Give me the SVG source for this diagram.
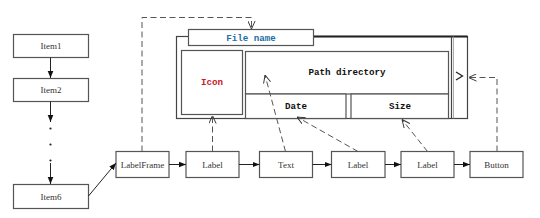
<svg xmlns="http://www.w3.org/2000/svg" width="540" height="218" viewBox="0 0 540 218">
<defs>
<style>
.box{fill:#fff;stroke:#555;stroke-width:1.2}
.t{font-family:"Liberation Serif",serif;font-size:9px;fill:#333;text-anchor:middle}
.m{font-family:"Liberation Mono",monospace;font-size:9.2px;font-weight:bold;fill:#111;text-anchor:middle}
.ln{stroke:#222;stroke-width:1;fill:none}
.dl{stroke:#555;stroke-width:1;fill:none;stroke-dasharray:6,3.5}
.fr{stroke:#444;stroke-width:1.2;fill:none}
</style>
<marker id="ah" viewBox="0 0 10 10" refX="10" refY="5" markerWidth="7" markerHeight="7" orient="auto" markerUnits="userSpaceOnUse">
<path d="M0,1 L10,5 L0,9 z" fill="#111"/>
</marker>
<marker id="oh" viewBox="0 0 10 10" refX="10" refY="5" markerWidth="8" markerHeight="8" orient="auto" markerUnits="userSpaceOnUse">
<path d="M0,0.5 L10,5 L0,9.5" fill="none" stroke="#333" stroke-width="1.2"/>
</marker>
</defs>
<rect width="540" height="218" fill="#fff"/>

<g id="frame">
<rect x="176.5" y="36.5" width="291" height="82" class="fr"/>
<line x1="314" y1="36.5" x2="467.5" y2="36.5" stroke="#222" stroke-width="2"/>
<line x1="451.5" y1="36.5" x2="451.5" y2="118.5" class="fr"/>
<line x1="453.5" y1="36.5" x2="453.5" y2="118.5" stroke="#999" stroke-width="0.8"/>
<path d="M456,72 L462.5,76 L456,80" fill="none" stroke="#222" stroke-width="1.3"/>
</g>
<g id="filename">
<rect x="188.5" y="29.5" width="125" height="16" class="box"/>
<text x="251" y="40.5" class="m" style="fill:#1f6fa8">File name</text>
</g>
<g id="icon">
<rect x="181.5" y="50.5" width="61" height="64" class="box"/>
<text x="212" y="85" class="m" style="fill:#c8202a">Icon</text>
</g>
<g id="pathdir">
<rect x="245.5" y="51.5" width="203" height="42.5" class="box"/>
<text x="347" y="75" class="m">Path directory</text>
</g>
<g id="date">
<rect x="245.5" y="94" width="100.5" height="24.5" class="box"/>
<text x="296" y="109" class="m">Date</text>
</g>
<g id="size">
<rect x="351" y="94" width="97.5" height="24.5" class="box"/>
<text x="400" y="109" class="m">Size</text>
</g>

<g id="item1"><rect x="13.5" y="34.5" width="75" height="23" class="box"/><text x="51" y="49" class="t">Item1</text></g>
<g id="item2"><rect x="13.5" y="78.5" width="75" height="23" class="box"/><text x="51" y="93" class="t">Item2</text></g>
<g id="item6"><rect x="13.5" y="184.5" width="75" height="24" class="box"/><text x="51" y="199.5" class="t">Item6</text></g>
<g id="dots" fill="#222">
<circle cx="50.5" cy="128.5" r="1.1"/><circle cx="50.5" cy="144.5" r="1.1"/><circle cx="50.5" cy="160.5" r="1.1"/>
</g>
<g id="labelframe"><rect x="116" y="151.5" width="53" height="26" class="box"/><text x="142.5" y="167.5" class="t">LabelFrame</text></g>
<g id="label1"><rect x="186" y="151.5" width="53" height="26" class="box"/><text x="212.5" y="167.5" class="t">Label</text></g>
<g id="text"><rect x="259.5" y="151.5" width="53" height="26" class="box"/><text x="286" y="167.5" class="t">Text</text></g>
<g id="label2"><rect x="331.5" y="151.5" width="53.5" height="26" class="box"/><text x="358" y="167.5" class="t">Label</text></g>
<g id="label3"><rect x="401" y="151.5" width="53" height="26" class="box"/><text x="427.5" y="167.5" class="t">Label</text></g>
<g id="button"><rect x="470" y="151.5" width="53" height="26" class="box"/><text x="496.5" y="167.5" class="t">Button</text></g>

<g id="connectors">
<line x1="50.5" y1="57.5" x2="50.5" y2="78" class="ln" marker-end="url(#ah)"/>
<line x1="50.5" y1="101.5" x2="50.5" y2="122" class="ln" marker-end="url(#ah)"/>
<line x1="50.5" y1="163" x2="50.5" y2="184" class="ln" marker-end="url(#ah)"/>
<line x1="88.5" y1="196" x2="116" y2="163" class="ln" marker-end="url(#ah)"/>
<line x1="169" y1="164.5" x2="186" y2="164.5" class="ln" marker-end="url(#ah)"/>
<line x1="239" y1="164.5" x2="259.5" y2="164.5" class="ln" marker-end="url(#ah)"/>
<line x1="312.5" y1="164.5" x2="331.5" y2="164.5" class="ln" marker-end="url(#ah)"/>
<line x1="385" y1="164.5" x2="401" y2="164.5" class="ln" marker-end="url(#ah)"/>
<line x1="454" y1="164.5" x2="470" y2="164.5" class="ln" marker-end="url(#ah)"/>
<path d="M142,151.5 V17.5 H251.5 V29" class="dl" marker-end="url(#oh)"/>
<line x1="212.5" y1="151.5" x2="212.5" y2="115.5" class="dl" marker-end="url(#oh)"/>
<line x1="285.5" y1="151.5" x2="265" y2="75" class="dl" marker-end="url(#oh)"/>
<line x1="358" y1="151.5" x2="297" y2="117" class="dl" marker-end="url(#oh)"/>
<line x1="427.5" y1="151.5" x2="402" y2="119.5" class="dl" marker-end="url(#oh)"/>
<path d="M497,151.5 V77.5 H468.5" class="dl" marker-end="url(#oh)"/>
</g>
</svg>
